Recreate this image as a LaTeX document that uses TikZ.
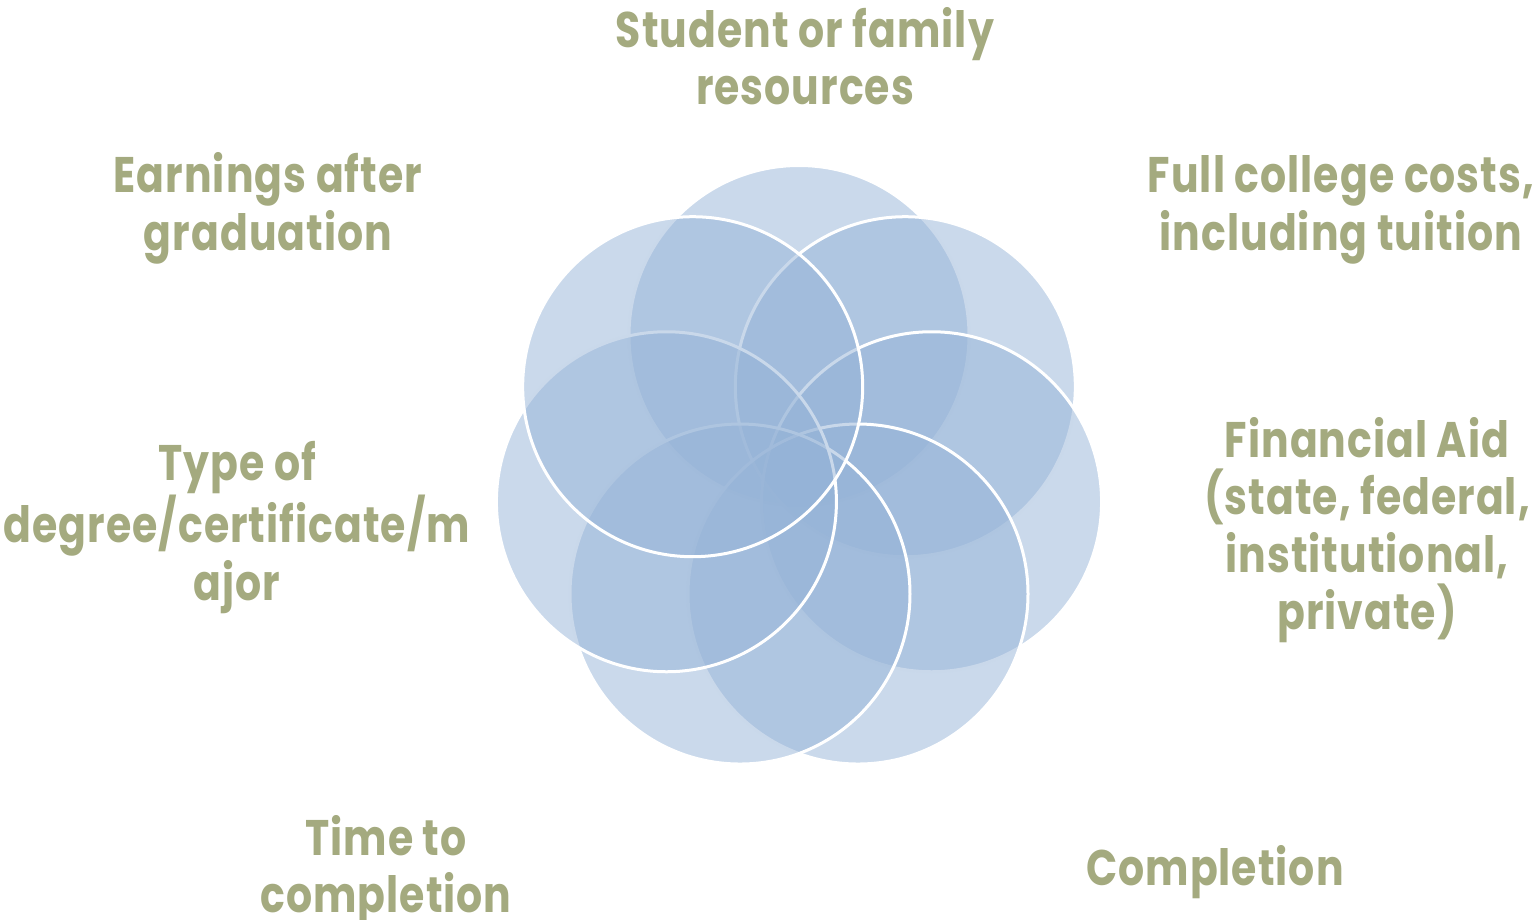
\documentclass[tikz,border=0pt]{standalone}
\usepackage{fontspec}
\usetikzlibrary{calc}
\setmainfont{Poppins}[FakeStretch=0.82,LetterSpace=2]
\definecolor{circfill}{HTML}{95B3D7}
\definecolor{labelcol}{RGB}{164,170,127}
\begin{document}
\begin{tikzpicture}[x=1pt,y=-1pt,
  venn/.style={circle, minimum size=340pt, inner sep=0pt, outer sep=0pt,
    fill=circfill, fill opacity=0.5, draw=white, draw opacity=1, line width=3pt},
  lbl/.style={anchor=base, align=center, text=labelcol,
    font=\bfseries\fontsize{50}{57.5}\selectfont, inner sep=0pt}]
\useasboundingbox (0,0) rectangle (1540,920);
\coordinate (ctr) at (799,471.5);
\foreach \i in {1,...,7}{
  \pgfmathsetmacro{\ang}{90-(\i-1)*360/7}
  \node[venn] (c\i) at ($(ctr)+(\ang:136 and -136)$) {};
}
\node[lbl] (t1) at (805,105) {Student or family\\resources};
\node[lbl] (t2) at (1341,250.5) {Full college costs,\\including tuition};
\node[lbl] (t3) at (1367,629.5) {Financial Aid\\(state, federal,\\institutional,\\private)};
\node[lbl] (t4) at (1215,885) {Completion};
\node[lbl] (t5) at (386,912.5) {Time to\\completion};
\node[lbl] (t6) at (237,600) {Type of\\degree/certificate/m\\ajor};
\node[lbl] (t7) at (268,250.5) {Earnings after\\graduation};
\end{tikzpicture}
\end{document}
